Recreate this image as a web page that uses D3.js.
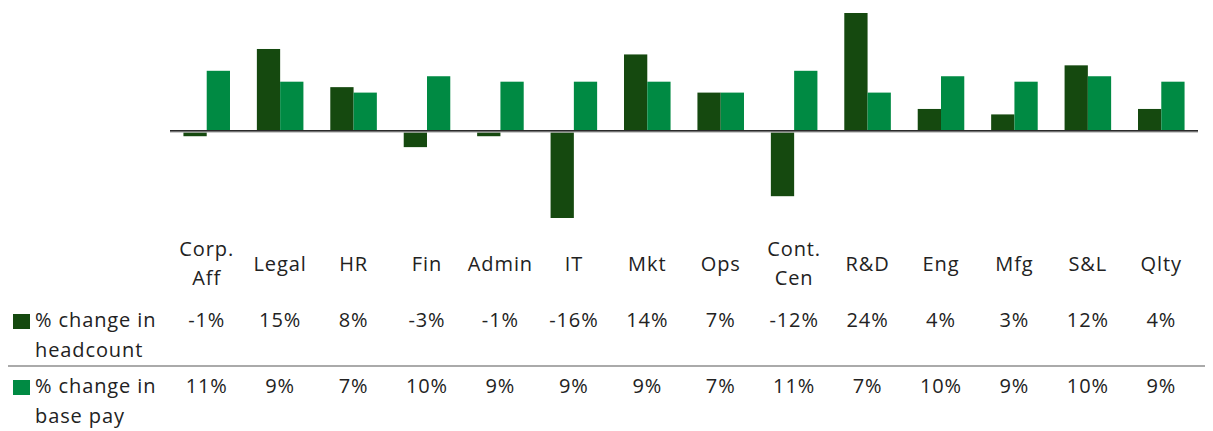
<!DOCTYPE html>
<html>
<head>
<meta charset="utf-8">
<script src="https://cdn.jsdelivr.net/npm/d3@7/dist/d3.min.js"></script>
<style>
  body { margin: 0; background: #fff; }
  text { font-family: "Open Sans", sans-serif; fill: #222; letter-spacing: 0.9px; }
</style>
</head>
<body>
<div id="chart"></div>
<script>
var width = 1213,
    height = 431;

// data
var categories = ["Corp.\nAff", "Legal", "HR", "Fin", "Admin", "IT", "Mkt", "Ops",
    "Cont.\nCen", "R&D", "Eng", "Mfg", "S&L", "Qlty"];
var headcount = [-1, 15, 8, -3, -1, -16, 14, 7, -12, 24, 4, 3, 12, 4];
var basePay = [11, 9, 7, 10, 9, 9, 9, 7, 11, 7, 10, 9, 10, 9];
var seriesNames = [["% change in", "headcount"], ["% change in", "base pay"]];

var colors = ["#15490f", "#008a43"];
var fontSize = 20;

var svg = d3.select('#chart')
    .append('svg')
    .attr('width', width)
    .attr('height', height);

var x = d3.scaleBand()
    .domain(d3.range(categories.length))
    .range([170, 1198])
    .paddingInner(0.366)
    .paddingOuter(0.183);

var xs = d3.scaleBand()
    .domain([0, 1])
    .range([0, x.bandwidth()]);

// top of plot clips the tallest bar, like the original
var y = d3.scaleLinear()
    .domain([-16, 21.6])
    .range([218, 13])
    .clamp(true);

var series = [headcount, basePay];

var groups = svg.append('g')
    .selectAll('g')
    .data(categories)
    .enter()
    .append('g')
    .attr('transform', (d, i) => `translate(${x(i)},0)`);

groups.selectAll('rect')
    .data((d, i) => series.map((s, k) => ({ k: k, v: s[i] })))
    .enter()
    .append('rect')
    .attr('x', d => xs(d.k))
    .attr('width', xs.bandwidth())
    .attr('y', d => Math.min(y(d.v), y(0)))
    .attr('height', d => Math.abs(y(d.v) - y(0)))
    .attr('fill', d => colors[d.k]);

// zero line
svg.append('line')
    .attr('x1', 170).attr('x2', 1198)
    .attr('y1', y(0) + 1).attr('y2', y(0) + 1)
    .attr('stroke', '#bbb')
    .attr('stroke-width', 2);
svg.append('line')
    .attr('x1', 170).attr('x2', 1198)
    .attr('y1', y(0)).attr('y2', y(0))
    .attr('stroke', '#2a2a2a')
    .attr('stroke-width', 1.5);

// category labels
var labels = svg.append('g')
    .selectAll('text')
    .data(categories)
    .enter()
    .append('text')
    .attr('text-anchor', 'middle')
    .attr('font-size', fontSize)
    .attr('x', (d, i) => x(i) + x.bandwidth() / 2)
    .attr('y', d => d.indexOf('\n') >= 0 ? 256 : 271);

labels.selectAll('tspan')
    .data(d => d.split('\n'))
    .enter()
    .append('tspan')
    .attr('x', function () { return d3.select(this.parentNode).attr('x'); })
    .attr('dy', (d, j) => j === 0 ? 0 : 29)
    .text(d => d);

// table rows
var rowY = [327, 393];
series.forEach(function (s, k) {
    svg.append('rect')
        .attr('x', 13)
        .attr('y', rowY[k] - 13)
        .attr('width', 17)
        .attr('height', 15)
        .attr('fill', colors[k]);

    svg.append('text')
        .attr('x', 35)
        .attr('y', rowY[k])
        .attr('font-size', fontSize)
        .selectAll('tspan')
        .data(seriesNames[k])
        .enter()
        .append('tspan')
        .attr('x', 35)
        .attr('dy', (d, j) => j === 0 ? 0 : 30)
        .text(d => d);

    svg.append('g')
        .selectAll('text')
        .data(s)
        .enter()
        .append('text')
        .attr('text-anchor', 'middle')
        .attr('font-size', fontSize)
        .attr('x', (d, i) => x(i) + x.bandwidth() / 2)
        .attr('y', rowY[k])
        .text(d => d + '%');
});

// separator between rows
svg.append('line')
    .attr('x1', 8).attr('x2', 1205)
    .attr('y1', 366).attr('y2', 366)
    .attr('stroke', '#aaa')
    .attr('stroke-width', 2);
</script>
</body>
</html>
